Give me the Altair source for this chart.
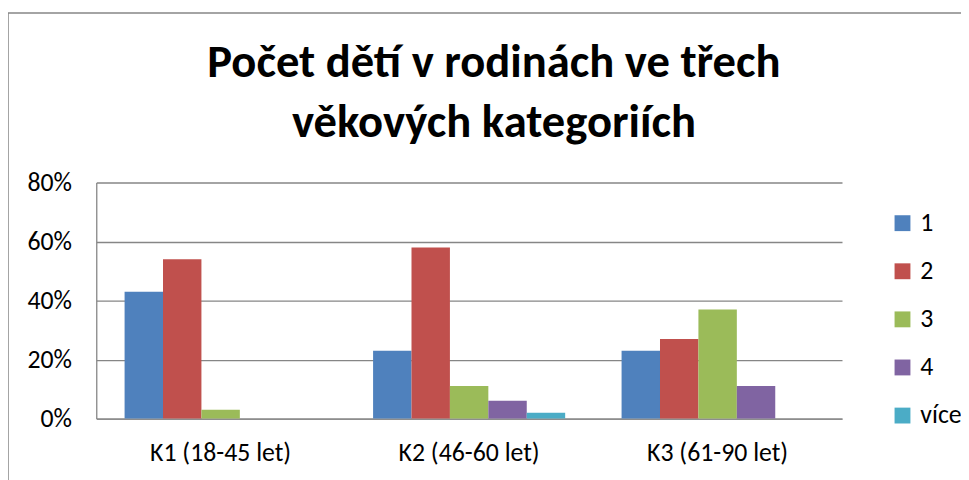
import altair as alt
import pandas as pd

categories = ["K1 (18-45 let)", "K2 (46-60 let)", "K3 (61-90 let)"]
series = ["1", "2", "3", "4", "více"]
colors = ["#4F81BD", "#C0504D", "#9BBB59", "#8064A2", "#4BACC6"]
values_k1 = [0.43, 0.54, 0.03, 0.0, 0.0]
values_k2 = [0.23, 0.58, 0.11, 0.06, 0.02]
values_k3 = [0.23, 0.27, 0.37, 0.11, 0.0]
title_lines = ["Počet dětí v rodinách ve třech", "věkových kategoriích"]

rows = []
for cat, vals in zip(categories, [values_k1, values_k2, values_k3]):
    for s, v in zip(series, vals):
        rows.append({"kategorie": cat, "pocet": s, "podil": v})
df = pd.DataFrame(rows)

FONT = "Carlito, Calibri, Lato, sans-serif"
FS = 26

border = alt.Chart(pd.DataFrame({"b": [0]})).mark_rect(
    fillOpacity=0, stroke="#868686", strokeWidth=1.5
).encode(
    x=alt.value(-89), x2=alt.value(1100), y=alt.value(-171), y2=alt.value(600)
)

title = alt.Chart(pd.DataFrame({"t": ["\n".join(title_lines)]})).mark_text(
    font=FONT, fontSize=47, fontWeight="bold", color="#000000",
    align="center", baseline="alphabetic", lineBreak="\n", lineHeight=60
).encode(
    text="t:N", x=alt.value(401), y=alt.value(-106)
)

bars = alt.Chart(df).mark_bar().encode(
    x=alt.X("kategorie:N", sort=categories, title=None,
            scale=alt.Scale(paddingInner=0.227, paddingOuter=0.114),
            axis=alt.Axis(labelAngle=0, labelFontSize=FS, labelFont=FONT,
                          labelColor="#000000", labelPadding=21, ticks=False,
                          domainColor="#868686", domainWidth=1.3)),
    xOffset=alt.XOffset("pocet:N", sort=series,
                        scale=alt.Scale(domain=series, paddingInner=0, paddingOuter=0)),
    y=alt.Y("podil:Q", title=None,
            scale=alt.Scale(domain=[0, 0.8], nice=False),
            axis=alt.Axis(values=[0, 0.2, 0.4, 0.6, 0.8], format=".0%",
                          labelFontSize=FS, labelFont=FONT, labelColor="#000000",
                          labelPadding=25, ticks=False, grid=True,
                          gridColor="#868686", gridWidth=1.3,
                          domainColor="#868686", domainWidth=1.3)),
    color=alt.Color("pocet:N", sort=series,
                    scale=alt.Scale(domain=series, range=colors),
                    legend=alt.Legend(title=None, orient="none", legendX=800, legendY=28,
                                      symbolType="square", symbolSize=256,
                                      symbolStrokeWidth=0, labelFontSize=FS,
                                      labelFont=FONT, labelColor="#000000",
                                      labelOffset=5, rowPadding=22.5, padding=0)),
)

chart = alt.layer(border, title, bars).properties(
    width=752,
    height=238,
    autosize=alt.AutoSizeParams(type="none"),
    padding={"left": 89, "top": 174, "right": 120, "bottom": 60},
).configure_view(stroke=None)

chart.save("out.html", embed_options={"renderer": "svg", "actions": False})
